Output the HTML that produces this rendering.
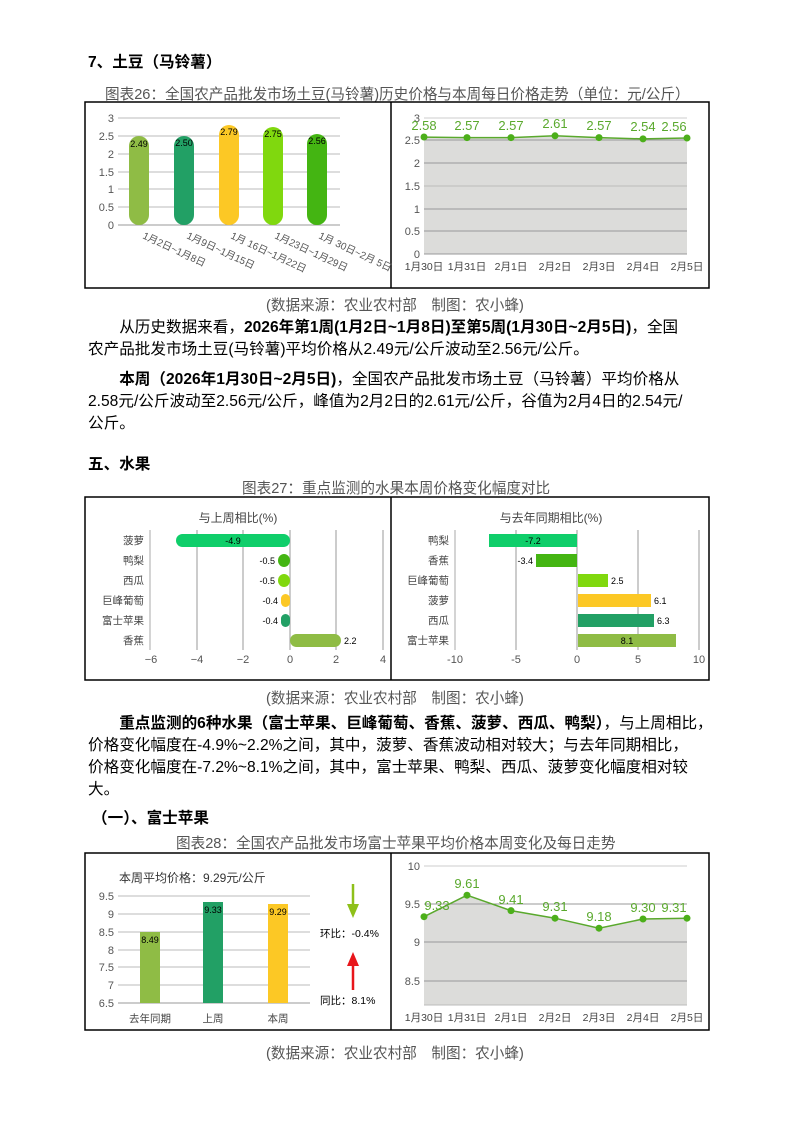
<!DOCTYPE html>
<html><head><meta charset="utf-8"><style>
body{margin:0;background:#fff;}
.p{position:absolute;font-family:"Liberation Sans","Noto Sans CJK SC",sans-serif;color:#000;font-size:15.6px;white-space:nowrap;}
.t{font-weight:bold;}
.cap{font-size:14.6px;color:#555;}
svg text{font-family:"Liberation Sans","Noto Sans CJK SC",sans-serif;}
</style></head><body>
<div style="position:relative;width:794px;height:1123px;overflow:hidden;">
<div class="p t" style="left:88px;top:50px;">7、土豆（马铃薯）</div>
<div class="p cap" style="left:105px;top:83px;">图表26：全国农产品批发市场土豆(马铃薯)历史价格与本周每日价格走势（单位：元/公斤）</div>
<div class="p cap" style="left:266px;top:294px;">(数据来源：农业农村部　制图：农小蜂)</div>
<div class="p" style="left:88px;top:317px;line-height:22px;">　　从历史数据来看，<b>2026年第1周(1月2日~1月8日)至第5周(1月30日~2月5日)</b>，全国<br>农产品批发市场土豆(马铃薯)平均价格从2.49元/公斤波动至2.56元/公斤。</div>
<div class="p" style="left:88px;top:369px;line-height:22px;">　　<b>本周（2026年1月30日~2月5日)</b>，全国农产品批发市场土豆（马铃薯）平均价格从<br>2.58元/公斤波动至2.56元/公斤，峰值为2月2日的2.61元/公斤，谷值为2月4日的2.54元/<br>公斤。</div>
<div class="p t" style="left:88px;top:452px;">五、水果</div>
<div class="p cap" style="left:242px;top:477px;">图表27：重点监测的水果本周价格变化幅度对比</div>
<div class="p cap" style="left:266px;top:687px;">(数据来源：农业农村部　制图：农小蜂)</div>
<div class="p" style="left:88px;top:713px;line-height:22px;">　　<b>重点监测的6种水果（富士苹果、巨峰葡萄、香蕉、菠萝、西瓜、鸭梨）</b>，与上周相比，<br>价格变化幅度在-4.9%~2.2%之间，其中，菠萝、香蕉波动相对较大；与去年同期相比，<br>价格变化幅度在-7.2%~8.1%之间，其中，富士苹果、鸭梨、西瓜、菠萝变化幅度相对较<br>大。</div>
<div class="p t" style="left:92px;top:806px;">（一）、富士苹果</div>
<div class="p cap" style="left:176px;top:832px;">图表28：全国农产品批发市场富士苹果平均价格本周变化及每日走势</div>
<div class="p cap" style="left:266px;top:1042px;">(数据来源：农业农村部　制图：农小蜂)</div>

<svg width="794" height="1123" style="position:absolute;left:0;top:0;">
<g fill="none" stroke="#000" stroke-width="1.5">
<rect x="85" y="102" width="624" height="186"/><line x1="391" y1="102" x2="391" y2="288"/>
<rect x="85" y="497" width="624" height="183"/><line x1="391" y1="497" x2="391" y2="680"/>
<rect x="85" y="853" width="624" height="177"/><line x1="391" y1="853" x2="391" y2="1030"/>
</g>
<g stroke="#bbb"><line x1="118" y1="118" x2="340" y2="118"/><line x1="118" y1="136" x2="340" y2="136"/><line x1="118" y1="154" x2="340" y2="154"/><line x1="118" y1="172" x2="340" y2="172"/><line x1="118" y1="189" x2="340" y2="189"/><line x1="118" y1="207" x2="340" y2="207"/><line x1="118" y1="225" x2="340" y2="225" stroke="#999"/></g>
<g font-size="11" fill="#555" text-anchor="end"><text x="114" y="122">3</text><text x="114" y="140">2.5</text><text x="114" y="158">2</text><text x="114" y="176">1.5</text><text x="114" y="193">1</text><text x="114" y="211">0.5</text><text x="114" y="229">0</text></g>
<rect x="129" y="136" width="20" height="89" rx="10" fill="#8fbc45"/>
<rect x="174" y="136" width="20" height="89" rx="10" fill="#22a065"/>
<rect x="219" y="125" width="20" height="100" rx="10" fill="#fcc825"/>
<rect x="263" y="127" width="20" height="98" rx="10" fill="#80d80e"/>
<rect x="307" y="134" width="20" height="91" rx="10" fill="#44b512"/>
<g font-size="9" fill="#000" text-anchor="middle"><text x="139" y="147">2.49</text><text x="184" y="146">2.50</text><text x="229" y="135">2.79</text><text x="273" y="137">2.75</text><text x="317" y="144">2.56</text></g>
<g font-size="10" fill="#555">
<text transform="translate(142,238) rotate(25)">1月2日~1月8日</text>
<text transform="translate(186,238) rotate(25)">1月9日~1月15日</text>
<text transform="translate(230,238) rotate(25)">1月 16日~1月22日</text>
<text transform="translate(274,238) rotate(25)">1月23日~1月29日</text>
<text transform="translate(318,238) rotate(25)">1月 30日~2月 5日</text></g>
<polygon points="424,137.1 467,137.6 511,137.6 555,135.8 599,137.6 643,138.9 687,138 687,254 424,254" fill="#dcdcda"/>
<g stroke="#999"><line x1="424" y1="118" x2="687" y2="118" stroke="#ccc"/><line x1="424" y1="140" x2="687" y2="140"/><line x1="424" y1="163" x2="687" y2="163"/><line x1="424" y1="186" x2="687" y2="186" stroke="#bbb"/><line x1="424" y1="209" x2="687" y2="209"/><line x1="424" y1="231" x2="687" y2="231"/><line x1="424" y1="254" x2="687" y2="254"/></g>
<g font-size="11" fill="#555" text-anchor="end"><text x="420" y="122">3</text><text x="420" y="144">2.5</text><text x="420" y="167">2</text><text x="420" y="190">1.5</text><text x="420" y="213">1</text><text x="420" y="235">0.5</text><text x="420" y="258">0</text></g>
<polyline points="424,137.1 467,137.6 511,137.6 555,135.8 599,137.6 643,138.9 687,138" fill="none" stroke="#5aa92d" stroke-width="1.5"/>
<g fill="#4caf1a"><circle cx="424" cy="137" r="3.5"/><circle cx="467" cy="137.6" r="3.5"/><circle cx="511" cy="137.6" r="3.5"/><circle cx="555" cy="135.8" r="3.5"/><circle cx="599" cy="137.6" r="3.5"/><circle cx="643" cy="138.9" r="3.5"/><circle cx="687" cy="138" r="3.5"/></g>
<g font-size="13" fill="#5aa92d" text-anchor="middle"><text x="424" y="130">2.58</text><text x="467" y="130">2.57</text><text x="511" y="130">2.57</text><text x="555" y="128">2.61</text><text x="599" y="130">2.57</text><text x="643" y="131">2.54</text><text x="674" y="131">2.56</text></g>
<g font-size="10.5" fill="#444" text-anchor="middle"><text x="424" y="270">1月30日</text><text x="467" y="270">1月31日</text><text x="511" y="270">2月1日</text><text x="555" y="270">2月2日</text><text x="599" y="270">2月3日</text><text x="643" y="270">2月4日</text><text x="687" y="270">2月5日</text></g>
<text x="238" y="522" font-size="12" fill="#444" text-anchor="middle">与上周相比(%)</text>
<g stroke="#bbb" stroke-width="1.5"><line x1="197" y1="530" x2="197" y2="650"/><line x1="243" y1="530" x2="243" y2="650"/><line x1="290" y1="530" x2="290" y2="650"/><line x1="336" y1="530" x2="336" y2="650"/><line x1="383" y1="530" x2="383" y2="650"/></g>
<line x1="150" y1="530" x2="150" y2="650" stroke="#aaa"/>
<g font-size="10.5" fill="#444" text-anchor="end"><text x="144" y="544">菠萝</text><text x="144" y="564">鸭梨</text><text x="144" y="584">西瓜</text><text x="144" y="604">巨峰葡萄</text><text x="144" y="624">富士苹果</text><text x="144" y="644">香蕉</text></g>
<rect x="176" y="534" width="114" height="13" rx="6.5" fill="#0fce6a"/>
<rect x="278" y="554" width="12" height="13" rx="6.5" fill="#44b512"/>
<rect x="278" y="574" width="12" height="13" rx="6.5" fill="#80d80e"/>
<rect x="281" y="594" width="9" height="13" rx="4.5" fill="#fcc825"/>
<rect x="281" y="614" width="9" height="13" rx="4.5" fill="#22a065"/>
<rect x="290" y="634" width="51" height="13" rx="6.5" fill="#8fbc45"/>
<g font-size="9" fill="#000"><text x="233" y="544" text-anchor="middle">-4.9</text><text x="275" y="564" text-anchor="end">-0.5</text><text x="275" y="584" text-anchor="end">-0.5</text><text x="278" y="604" text-anchor="end">-0.4</text><text x="278" y="624" text-anchor="end">-0.4</text><text x="344" y="644">2.2</text></g>
<g font-size="11" fill="#555" text-anchor="middle"><text x="151" y="663">−6</text><text x="197" y="663">−4</text><text x="243" y="663">−2</text><text x="290" y="663">0</text><text x="336" y="663">2</text><text x="383" y="663">4</text></g>
<text x="551" y="522" font-size="12" fill="#444" text-anchor="middle">与去年同期相比(%)</text>
<g stroke="#bbb" stroke-width="1.5"><line x1="516" y1="530" x2="516" y2="650"/><line x1="577" y1="530" x2="577" y2="650"/><line x1="638" y1="530" x2="638" y2="650"/><line x1="699" y1="530" x2="699" y2="650"/></g>
<line x1="455" y1="530" x2="455" y2="650" stroke="#aaa"/>
<g font-size="10.5" fill="#444" text-anchor="end"><text x="449" y="544">鸭梨</text><text x="449" y="564">香蕉</text><text x="449" y="584">巨峰葡萄</text><text x="449" y="604">菠萝</text><text x="449" y="624">西瓜</text><text x="449" y="644">富士苹果</text></g>
<rect x="489" y="534" width="88" height="13" fill="#0fce6a"/>
<rect x="536" y="554" width="41" height="13" fill="#44b512"/>
<rect x="578" y="574" width="30" height="13" fill="#80d80e"/>
<rect x="578" y="594" width="73" height="13" fill="#fcc825"/>
<rect x="578" y="614" width="76" height="13" fill="#22a065"/>
<rect x="578" y="634" width="98" height="13" fill="#8fbc45"/>
<g font-size="9" fill="#000"><text x="533" y="544" text-anchor="middle">-7.2</text><text x="533" y="564" text-anchor="end">-3.4</text><text x="611" y="584">2.5</text><text x="654" y="604">6.1</text><text x="657" y="624">6.3</text><text x="627" y="644" text-anchor="middle">8.1</text></g>
<g font-size="11" fill="#555" text-anchor="middle"><text x="455" y="663">-10</text><text x="516" y="663">-5</text><text x="577" y="663">0</text><text x="638" y="663">5</text><text x="699" y="663">10</text></g>
<text x="119" y="882" font-size="12" fill="#333">本周平均价格：9.29元/公斤</text>
<g stroke="#bbb"><line x1="118" y1="896" x2="310" y2="896"/><line x1="118" y1="914" x2="310" y2="914"/><line x1="118" y1="932" x2="310" y2="932"/><line x1="118" y1="950" x2="310" y2="950"/><line x1="118" y1="967" x2="310" y2="967"/><line x1="118" y1="985" x2="310" y2="985"/><line x1="118" y1="1003" x2="310" y2="1003" stroke="#999"/></g>
<g font-size="11" fill="#555" text-anchor="end"><text x="114" y="900">9.5</text><text x="114" y="918">9</text><text x="114" y="936">8.5</text><text x="114" y="954">8</text><text x="114" y="971">7.5</text><text x="114" y="989">7</text><text x="114" y="1007">6.5</text></g>
<rect x="140" y="932" width="20" height="71" fill="#8fbc45"/>
<rect x="203" y="902" width="20" height="101" fill="#22a065"/>
<rect x="268" y="904" width="20" height="99" fill="#fcc825"/>
<g font-size="9" fill="#000" text-anchor="middle"><text x="150" y="943">8.49</text><text x="213" y="913">9.33</text><text x="278" y="915">9.29</text></g>
<g font-size="10.5" fill="#444" text-anchor="middle"><text x="150" y="1022">去年同期</text><text x="213" y="1022">上周</text><text x="278" y="1022">本周</text></g>
<line x1="353" y1="884" x2="353" y2="908" stroke="#8ec01a" stroke-width="2.5"/><polygon points="347,904 359,904 353,918" fill="#8ec01a"/>
<line x1="353" y1="990" x2="353" y2="962" stroke="#e8161b" stroke-width="2.5"/><polygon points="347,966 359,966 353,952" fill="#e8161b"/>
<text x="320" y="937" font-size="10.5" fill="#000">环比：-0.4%</text>
<text x="320" y="1004" font-size="10.5" fill="#000">同比：8.1%</text>
<polygon points="424,916.7 467,895.2 511,910.6 555,918.2 599,928.2 643,919 687,918.2 687,1005 424,1005" fill="#dcdcda"/>
<g stroke="#999"><line x1="424" y1="866" x2="687" y2="866" stroke="#ccc"/><line x1="424" y1="904" x2="687" y2="904"/><line x1="424" y1="942" x2="687" y2="942"/><line x1="424" y1="981" x2="687" y2="981"/><line x1="424" y1="1005" x2="687" y2="1005" stroke="#bbb"/></g>
<g font-size="11" fill="#555" text-anchor="end"><text x="420" y="870">10</text><text x="420" y="908">9.5</text><text x="420" y="946">9</text><text x="420" y="985">8.5</text></g>
<polyline points="424,916.7 467,895.2 511,910.6 555,918.2 599,928.2 643,919 687,918.2" fill="none" stroke="#5aa92d" stroke-width="1.5"/>
<g fill="#4caf1a"><circle cx="424" cy="916.7" r="3.5"/><circle cx="467" cy="895.2" r="3.5"/><circle cx="511" cy="910.6" r="3.5"/><circle cx="555" cy="918.2" r="3.5"/><circle cx="599" cy="928.2" r="3.5"/><circle cx="643" cy="919" r="3.5"/><circle cx="687" cy="918.2" r="3.5"/></g>
<g font-size="13" fill="#5aa92d" text-anchor="middle"><text x="437" y="910">9.33</text><text x="467" y="888">9.61</text><text x="511" y="904">9.41</text><text x="555" y="911">9.31</text><text x="599" y="921">9.18</text><text x="643" y="912">9.30</text><text x="674" y="912">9.31</text></g>
<g font-size="10.5" fill="#444" text-anchor="middle"><text x="424" y="1021">1月30日</text><text x="467" y="1021">1月31日</text><text x="511" y="1021">2月1日</text><text x="555" y="1021">2月2日</text><text x="599" y="1021">2月3日</text><text x="643" y="1021">2月4日</text><text x="687" y="1021">2月5日</text></g>
</svg>
</div>
</body></html>
